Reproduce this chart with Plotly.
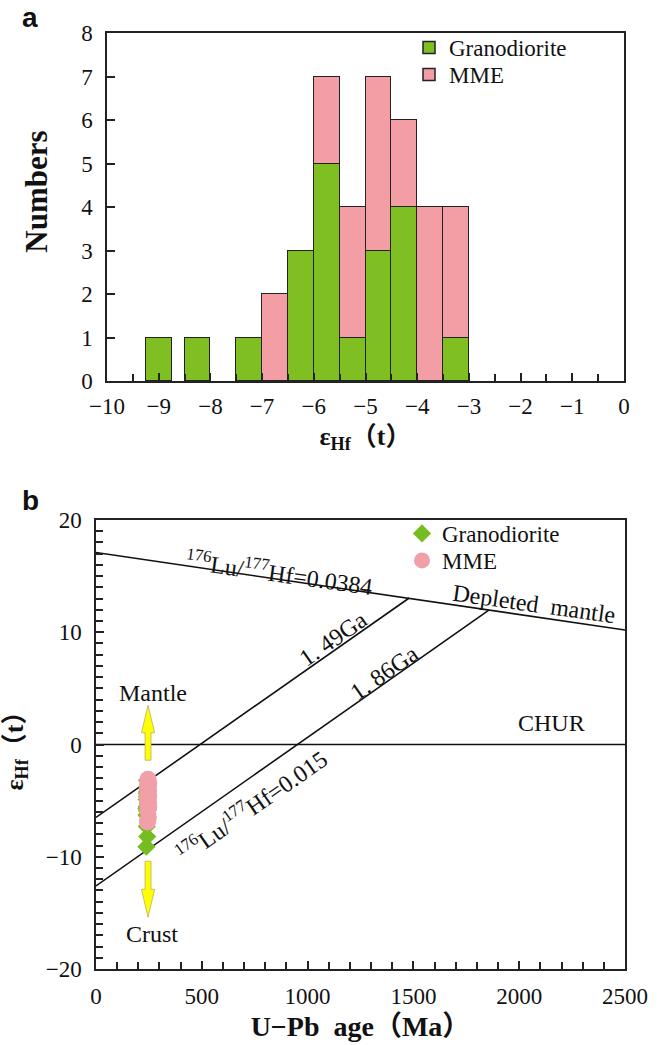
import plotly.graph_objects as go

# ---------------- data ----------------
# Panel a: histogram bins (centres, width 0.5) and counts
bin_centers = [-9.0, -8.25, -7.25, -6.75, -6.25, -5.75, -5.25, -4.75, -4.25, -3.75, -3.25]
bin_width = 0.5
grano_counts = [1, 1, 1, 0, 3, 5, 1, 3, 4, 0, 1]
mme_counts = [0, 0, 0, 2, 0, 2, 3, 4, 2, 4, 3]

# Panel b: sample points
grano_age = [238, 242, 240, 244, 239, 243, 241, 245, 238, 242, 240, 244, 239, 243, 241, 245, 240, 242, 244, 241]
grano_ehf = [-9.1, -8.2, -7.3, -6.4, -6.3, -6.2, -5.9, -5.8, -5.7, -5.6, -5.55, -5.3, -4.9, -4.7, -4.6, -4.45, -4.35, -4.2, -4.05, -3.2]
mme_age = [243, 247, 245, 249, 244, 248, 246, 243, 247, 245, 249, 244, 248, 246, 243, 247, 245, 249, 244, 246]
mme_ehf = [-6.9, -6.6, -5.85, -5.6, -5.4, -5.2, -5.05, -4.95, -4.8, -4.65, -4.55, -4.4, -4.1, -3.95, -3.8, -3.7, -3.55, -3.45, -3.3, -3.1]

# Reference lines (age in Ma, eHf)
dm_x = [0, 2500]
dm_y = [17.1, 10.2]
chur_x = [0, 2500]
chur_y = [0, 0]
l149_x = [0, 1480]
l149_y = [-6.5, 13.05]
l186_x = [0, 1855]
l186_y = [-12.6, 11.95]

# Mantle / crust arrows: x centre, base, head start, tip
arrow_x = 246
up_arrow_y = [-1.4, 1.05, 3.5]
down_arrow_y = [-10.4, -12.9, -15.4]
shaft_hw = 14
head_hw = 31

GREEN = "#80bf22"
PINK = "#f29ea4"
SERIF = "Liberation Serif"
CJK = "Liberation Serif, Noto Sans CJK SC"


def sfont(size, family=SERIF):
    return dict(family=family, size=size, color="#111", weight="normal", style="normal")


fig = go.Figure()

# ---------------- panel a ----------------
fig.add_trace(go.Bar(
    x=bin_centers, y=grano_counts, width=bin_width, name="Granodiorite",
    marker=dict(color=GREEN, line=dict(color="#222", width=1.5)),
    xaxis="x", yaxis="y", legend="legend"))
fig.add_trace(go.Bar(
    x=bin_centers, y=mme_counts, width=bin_width, name="MME",
    marker=dict(color=PINK, line=dict(color="#222", width=1.5)),
    xaxis="x", yaxis="y", legend="legend3"))

# ---------------- panel b ----------------
line_style = dict(color="#111", width=1.6)
for xs, ys in [(dm_x, dm_y), (chur_x, chur_y), (l149_x, l149_y), (l186_x, l186_y)]:
    fig.add_trace(go.Scatter(x=xs, y=ys, mode="lines", line=line_style,
                             showlegend=False, hoverinfo="skip",
                             xaxis="x2", yaxis="y2"))

fig.add_trace(go.Scatter(
    x=grano_age, y=grano_ehf, mode="markers", name="Granodiorite",
    marker=dict(symbol="diamond", size=14, color="#76bd22"),
    xaxis="x2", yaxis="y2", legend="legend2"))
fig.add_trace(go.Scatter(
    x=mme_age, y=mme_ehf, mode="markers", name="MME",
    marker=dict(symbol="circle", size=17, color="#f0a0a6"),
    xaxis="x2", yaxis="y2", legend="legend4"))


def arrow_path(xc, ys):
    base, head, tip = ys
    pts = [(xc - shaft_hw, base), (xc - shaft_hw, head), (xc - head_hw, head),
           (xc, tip), (xc + head_hw, head), (xc + shaft_hw, head),
           (xc + shaft_hw, base)]
    return "M " + " L ".join(f"{px},{py}" for px, py in pts) + " Z"


shapes = []
for ys in (up_arrow_y, down_arrow_y):
    shapes.append(dict(type="path", path=arrow_path(arrow_x, ys), xref="x2", yref="y2",
                       fillcolor="#ffff00", line=dict(color="#b8b060", width=0.8),
                       layer="above"))

W, H = 660, 1045
a_x = [107 / W, 624 / W]
a_y = [1 - 381 / H, 1 - 33 / H]
b_x = [96 / W, 625 / W]
b_y = [1 - 969 / H, 1 - 520 / H]

axis_common = dict(showline=True, linecolor="#222", linewidth=1.5, mirror=True,
                   ticks="inside", tickcolor="#222", tickwidth=1.5, ticklen=8,
                   showgrid=False, zeroline=False, automargin=False,
                   layer="above traces", tickfont=sfont(23))
minor_common = dict(ticks="inside", ticklen=7, tickwidth=1.5, tickcolor="#222", showgrid=False)

NBSP = "\u00a0"


def leg(x, y):
    return dict(x=x / W, y=1 - y / H, xanchor="left", yanchor="top",
                bgcolor="rgba(0,0,0,0)", font=sfont(23),
                traceorder="normal", itemwidth=30, tracegroupgap=0)


fig.update_layout(
    width=W, height=H,
    margin=dict(l=0, r=0, t=0, b=0, autoexpand=False),
    paper_bgcolor="white", plot_bgcolor="white",
    font=dict(family=SERIF, color="#111"),
    barmode="stack", bargap=0,
    xaxis=dict(domain=a_x, anchor="y", range=[-10, 0], dtick=1, tick0=0,
               minor=dict(dtick=0.5, **minor_common),
               title=dict(text="<b>ε<sub>Hf</sub>（t）</b>", font=dict(family=CJK, size=26, color="#111"), standoff=8),
               ticklabelstandoff=4,
               **axis_common),
    yaxis=dict(domain=a_y, anchor="x", range=[0, 8], dtick=1,
               title=dict(text="<b>" + NBSP * 4 + "Numbers</b>", font=dict(family=SERIF, size=31, color="#111"), standoff=24),
               ticklabelstandoff=8,
               **axis_common),
    xaxis2=dict(domain=b_x, anchor="y2", range=[0, 2500], dtick=500,
                minor=dict(dtick=100, **minor_common),
                title=dict(text="<b>U−Pb  age（Ma）</b>", font=dict(family=CJK, size=28, color="#111"), standoff=8),
                ticklabelstandoff=6,
                **axis_common),
    yaxis2=dict(domain=b_y, anchor="x2", range=[-20, 20], dtick=10,
                minor=dict(dtick=1, **minor_common),
                title=dict(text="<b>ε<sub>Hf</sub>（t）</b>", font=dict(family=CJK, size=26, color="#111"), standoff=18),
                ticklabelstandoff=8,
                **axis_common),
    legend=leg(409, 26),
    legend3=leg(409, 53),
    legend2=leg(402, 512),
    legend4=leg(402, 539),
    shapes=shapes,
)

ann_font = sfont(24)
annotations = [
    dict(text="<b>a</b>", x=20 / W, y=1 - 0 / H, xref="paper", yref="paper",
         xanchor="left", yanchor="top", showarrow=False,
         font=dict(family="Liberation Sans", size=28, color="#111")),
    dict(text="<b>b</b>", x=20 / W, y=1 - 483 / H, xref="paper", yref="paper",
         xanchor="left", yanchor="top", showarrow=False,
         font=dict(family="Liberation Sans", size=28, color="#111")),
    dict(text="<sup>176</sup>Lu/<sup>177</sup>Hf=0.0384", x=866, y=15.4, textangle=8),
    dict(text="Depleted  mantle", x=2070, y=12.5, textangle=8),
    dict(text="1. 49Ga", x=1120, y=9.4, textangle=-35),
    dict(text="1. 86Ga", x=1360, y=6.4, textangle=-35),
    dict(text="<sup>176</sup>Lu/<sup>177</sup>Hf=0.015", x=737, y=-5.4, textangle=-35),
    dict(text="CHUR", x=2151, y=1.9),
    dict(text="Mantle", x=269, y=4.6),
    dict(text="Crust", x=265, y=-16.9),
]
for a in annotations:
    if "xref" not in a:
        a.update(xref="x2", yref="y2", showarrow=False, font=ann_font)
    fig.add_annotation(**a)

fig.write_html("out.html")
